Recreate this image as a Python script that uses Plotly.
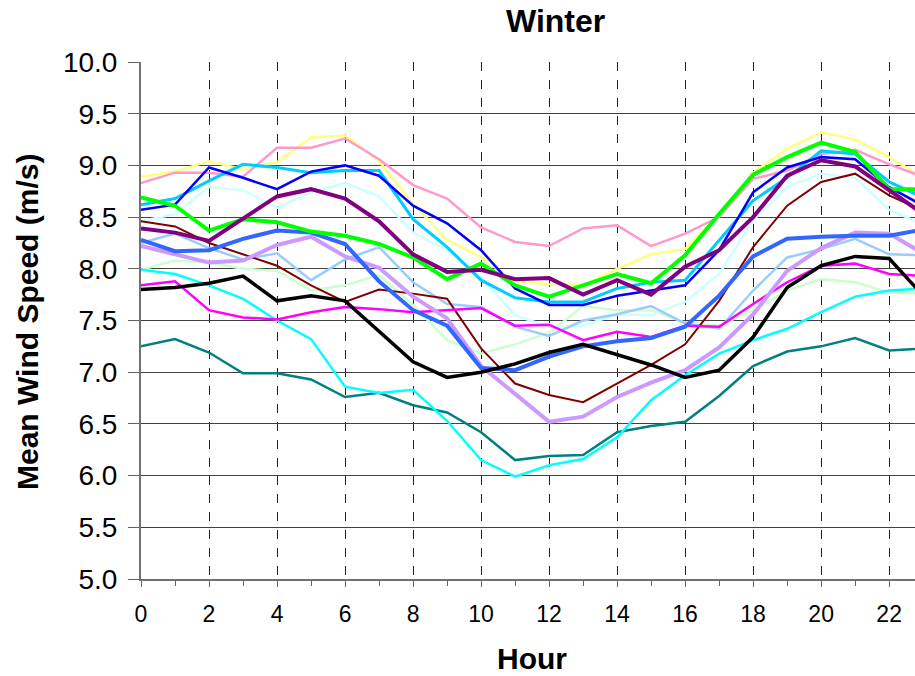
import plotly.graph_objects as go

hours = list(range(24))

yellow = [8.89, 8.94, 9.04, 8.96, 9.03, 9.27, 9.29, 9.04, 8.63, 8.28, 8.11, 7.88, 7.85, 7.84, 8.00, 8.14, 8.19, 8.53, 8.93, 9.16, 9.32, 9.25, 9.08, 8.88]
pink = [8.83, 8.93, 8.93, 8.89, 9.17, 9.17, 9.26, 9.06, 8.81, 8.68, 8.40, 8.26, 8.22, 8.39, 8.42, 8.22, 8.34, 8.50, 8.87, 8.95, 9.11, 9.15, 9.01, 8.89]
blue = [8.57, 8.62, 8.98, 8.88, 8.77, 8.94, 9.00, 8.90, 8.61, 8.44, 8.18, 7.81, 7.65, 7.65, 7.74, 7.79, 7.84, 8.18, 8.74, 8.98, 9.08, 9.06, 8.79, 8.61]
skyblue = [8.62, 8.68, 8.85, 9.01, 8.98, 8.93, 8.95, 8.95, 8.48, 8.21, 7.89, 7.72, 7.68, 7.68, 7.81, 7.87, 7.89, 8.27, 8.66, 8.88, 9.14, 9.11, 8.84, 8.69]
green = [8.69, 8.61, 8.37, 8.48, 8.45, 8.36, 8.32, 8.24, 8.11, 7.90, 8.05, 7.84, 7.73, 7.84, 7.95, 7.86, 8.13, 8.53, 8.91, 9.08, 9.22, 9.13, 8.77, 8.77]
purple = [8.39, 8.35, 8.27, 8.48, 8.70, 8.77, 8.68, 8.46, 8.14, 7.97, 7.99, 7.90, 7.91, 7.75, 7.89, 7.75, 8.02, 8.18, 8.50, 8.90, 9.05, 8.99, 8.76, 8.53]
lightcyan = [8.46, 8.53, 8.79, 8.76, 8.59, 8.74, 8.83, 8.70, 8.35, 8.18, 7.92, 7.55, 7.44, 7.45, 7.56, 7.55, 7.68, 7.95, 8.47, 8.79, 8.92, 8.88, 8.57, 8.43]
darkred = [8.46, 8.41, 8.25, 8.14, 8.03, 7.84, 7.68, 7.80, 7.76, 7.71, 7.23, 6.89, 6.78, 6.71, 6.89, 7.07, 7.27, 7.69, 8.21, 8.61, 8.84, 8.92, 8.71, 8.56]
royalblue = [8.28, 8.17, 8.18, 8.29, 8.37, 8.35, 8.24, 7.88, 7.60, 7.45, 7.04, 7.02, 7.15, 7.25, 7.30, 7.33, 7.44, 7.74, 8.12, 8.29, 8.31, 8.32, 8.32, 8.38]
lightblue = [8.25, 8.34, 8.20, 8.09, 8.15, 7.89, 8.09, 8.21, 7.87, 7.66, 7.63, 7.44, 7.35, 7.50, 7.56, 7.64, 7.47, 7.42, 7.79, 8.11, 8.19, 8.29, 8.14, 8.13]
lightpurple = [8.22, 8.14, 8.06, 8.08, 8.23, 8.31, 8.12, 8.01, 7.73, 7.52, 7.06, 6.79, 6.52, 6.57, 6.76, 6.90, 7.02, 7.24, 7.56, 7.98, 8.20, 8.35, 8.34, 8.15]
lightgreen = [7.99, 8.08, 8.06, 8.00, 7.98, 7.79, 7.84, 7.94, 7.65, 7.31, 7.18, 7.27, 7.38, 7.64, 7.60, 7.60, 7.48, 7.45, 7.60, 7.79, 7.90, 7.87, 7.77, 7.76]
magenta = [7.84, 7.88, 7.60, 7.53, 7.51, 7.58, 7.63, 7.61, 7.58, 7.60, 7.62, 7.45, 7.46, 7.31, 7.39, 7.34, 7.45, 7.44, 7.66, 7.87, 8.03, 8.05, 7.95, 7.93]
black = [7.80, 7.82, 7.86, 7.93, 7.69, 7.74, 7.69, 7.40, 7.10, 6.95, 7.00, 7.08, 7.19, 7.27, 7.17, 7.07, 6.95, 7.02, 7.34, 7.82, 8.03, 8.12, 8.10, 7.74]
cyan = [7.99, 7.95, 7.84, 7.71, 7.50, 7.32, 6.86, 6.80, 6.83, 6.53, 6.15, 5.99, 6.10, 6.16, 6.37, 6.73, 6.97, 7.18, 7.31, 7.42, 7.58, 7.73, 7.79, 7.81]
teal = [7.25, 7.32, 7.19, 6.99, 6.99, 6.93, 6.76, 6.80, 6.68, 6.61, 6.42, 6.15, 6.19, 6.20, 6.42, 6.48, 6.52, 6.77, 7.06, 7.20, 7.25, 7.33, 7.21, 7.23]

series = [
    ("Light green", lightgreen, "#CCFFCC", 2.5),
    ("Light cyan", lightcyan, "#CCFFFF", 2.5),
    ("Yellow", yellow, "#FFFF80", 2.5),
    ("Light blue", lightblue, "#99CCFF", 2.5),
    ("Dark red", darkred, "#800000", 2),
    ("Teal", teal, "#008080", 2.5),
    ("Cyan", cyan, "#00FFFF", 2.5),
    ("Magenta", magenta, "#FF00FF", 2.5),
    ("Pink", pink, "#FF99CC", 2.5),
    ("Sky blue", skyblue, "#00CCFF", 3),
    ("Blue", blue, "#0000FF", 2.5),
    ("Light purple", lightpurple, "#CC99FF", 4),
    ("Royal blue", royalblue, "#3366FF", 4),
    ("Green", green, "#00FF00", 4),
    ("Purple", purple, "#800080", 4),
    ("Black", black, "#000000", 3.5),
]

fig = go.Figure()
for name, vals, color, w in series:
    fig.add_trace(go.Scatter(x=hours, y=vals, mode="lines", name=name,
                             line=dict(color=color, width=w), showlegend=False))

font_family = "Liberation Sans, Arial, sans-serif"
# plot area: left 141, top 62, width 774, height 517
PL, PT, PW, PH = 141, 62, 774, 517

def px_x(px):
    return (px - PL) / PW

def px_y(py):
    return (PT + PH - py) / PH

fig.update_layout(
    width=915, height=676,
    margin=dict(l=PL, r=915 - PL - PW, t=PT, b=676 - PT - PH),
    plot_bgcolor="white", paper_bgcolor="white",
    font=dict(family=font_family, color="black"),
    xaxis=dict(
        range=[0, 22.76], tickmode="linear", tick0=0, dtick=2,
        ticks="outside", ticklen=6, tickcolor="#606060", tickwidth=1,
        showgrid=True, gridcolor="#202020", griddash="dash", gridwidth=1,
        showline=True, linecolor="#707070", linewidth=2,
        tickfont=dict(size=23), zeroline=False, ticklabelstandoff=7,
        minor=dict(dtick=1, tick0=0, ticks="outside", ticklen=5, tickcolor="#606060", showgrid=False),
    ),
    yaxis=dict(
        range=[5, 10], tickmode="linear", tick0=5, dtick=0.5, tickformat=".1f",
        ticks="outside", ticklen=11, tickcolor="#606060",
        showgrid=True, gridcolor="#404040", gridwidth=1.3,
        showline=True, linecolor="#707070", linewidth=2,
        tickfont=dict(size=28), zeroline=False, ticklabelstandoff=5,
    ),
    annotations=[
        dict(text="<b>Winter</b>", x=px_x(555), y=px_y(21), xref="paper", yref="paper",
             xanchor="center", yanchor="middle", showarrow=False, font=dict(size=32)),
        dict(text="<b>Hour</b>", x=px_x(532), y=px_y(658), xref="paper", yref="paper",
             xanchor="center", yanchor="middle", showarrow=False, font=dict(size=30)),
        dict(text="<b>Mean Wind Speed (m/s)</b>", x=px_x(27), y=px_y(322), xref="paper", yref="paper",
             xanchor="center", yanchor="middle", showarrow=False, textangle=-90, font=dict(size=30)),
    ],
)

fig.write_html("out.html")
